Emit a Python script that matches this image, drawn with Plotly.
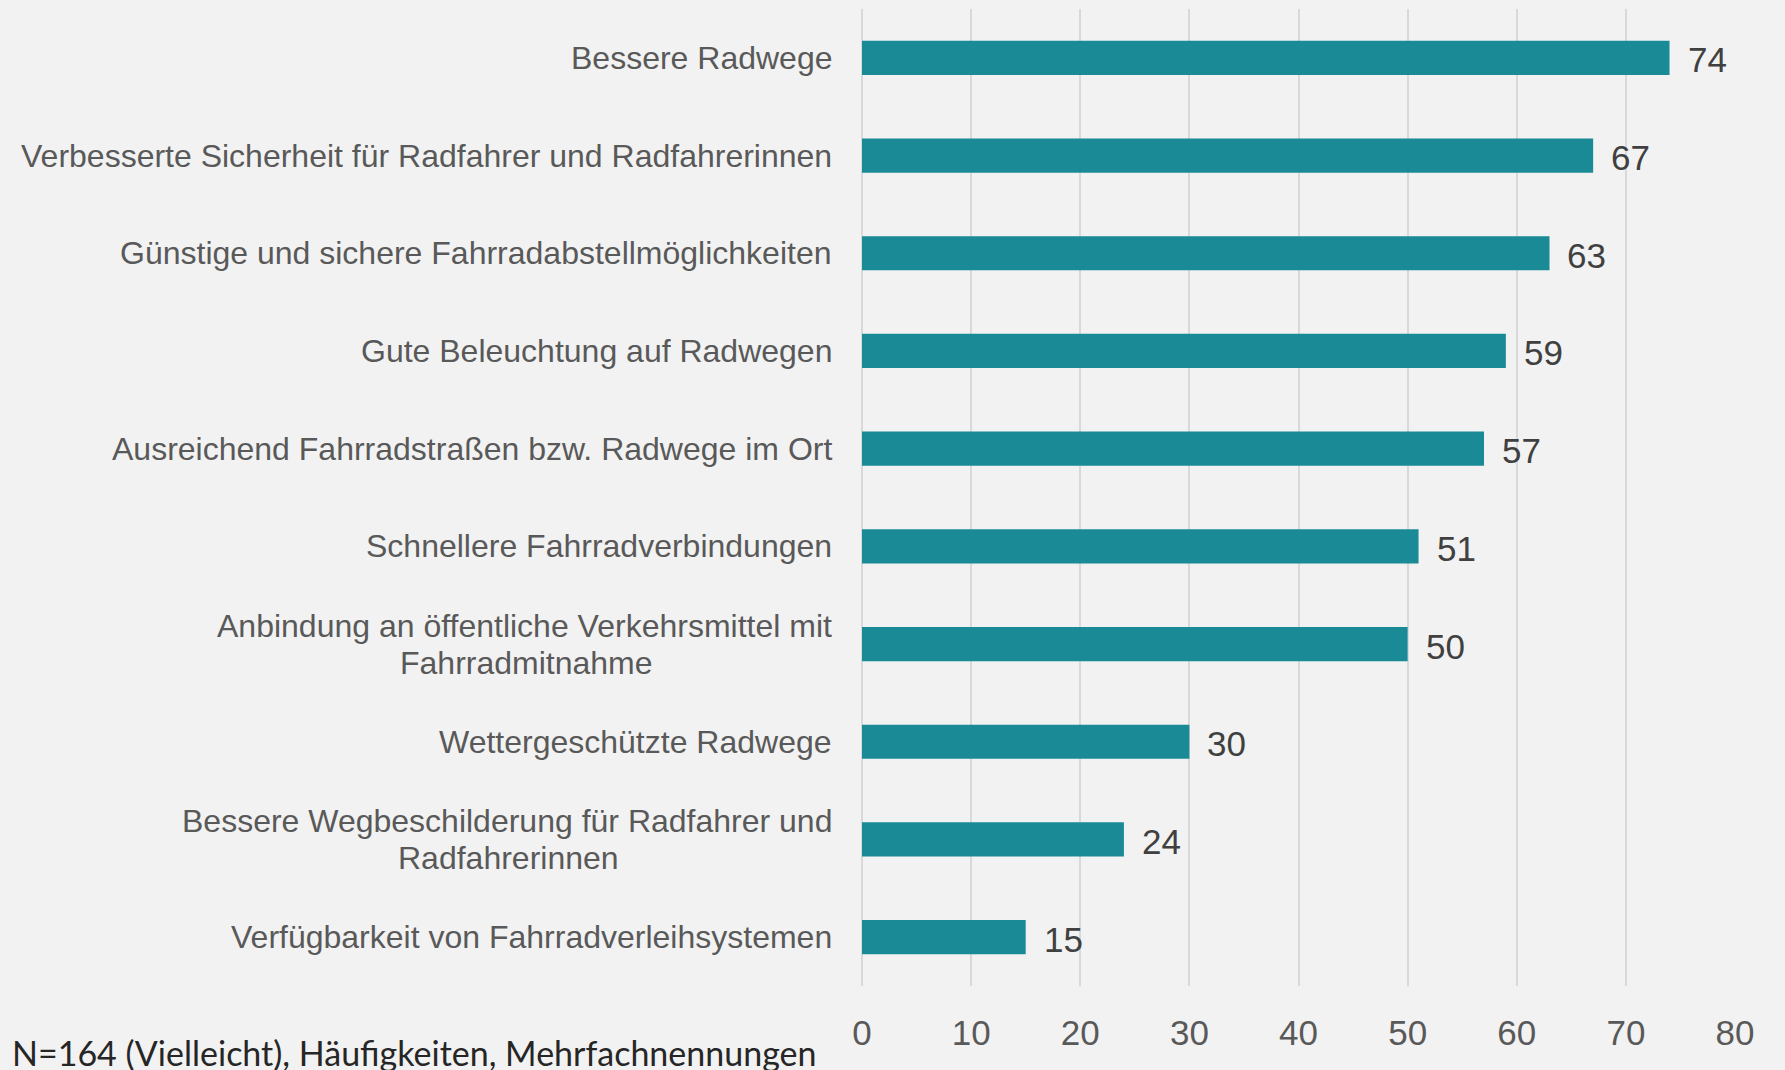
import plotly.graph_objects as go

categories = [
    "Bessere Radwege",
    "Verbesserte Sicherheit für Radfahrer und Radfahrerinnen",
    "Günstige und sichere Fahrradabstellmöglichkeiten",
    "Gute Beleuchtung auf Radwegen",
    "Ausreichend Fahrradstraßen bzw. Radwege im Ort",
    "Schnellere Fahrradverbindungen",
    "Anbindung an öffentliche Verkehrsmittel mit<br>Fahrradmitnahme",
    "Wettergeschützte Radwege",
    "Bessere Wegbeschilderung für Radfahrer und<br>Radfahrerinnen",
    "Verfügbarkeit von Fahrradverleihsystemen",
]
values = [74, 67, 63, 59, 57, 51, 50, 30, 24, 15]
x_ticks = [0, 10, 20, 30, 40, 50, 60, 70, 80]
footnote = "N=164 (Vielleicht), Häufigkeiten, Mehrfachnennungen"

BAR = "#1a8a96"
BG = "#f2f2f2"
GRID = "#d9d9d9"
TXT = "#595959"
LABEL_FONT = {"family": "Liberation Sans", "size": 32, "color": TXT}
LINE_H = 37  # Zeilenabstand der zweizeiligen Beschriftungen (px)
# ungefaehre Breite der ersten Zeile (px), um die zweite Zeile darunter zu zentrieren
FIRST_LINE_W = {
    "Anbindung an öffentliche Verkehrsmittel mit": 616,
    "Bessere Wegbeschilderung für Radfahrer und": 652,
}

fig = go.Figure(
    go.Bar(
        x=values,
        y=categories,
        orientation="h",
        marker={"color": BAR, "line": {"width": 0}},
        hoverinfo="x+y",
    )
)

# Werte rechts neben den Balken
for cat, val in zip(categories, values):
    fig.add_annotation(
        x=val, y=cat, text=str(val), showarrow=False,
        xanchor="left", yanchor="middle", xshift=16, yshift=-2,
        font={"family": "Liberation Sans", "size": 35, "color": "#404040"},
    )

# Kategorienbeschriftung; zweizeilige als getrennte Zeilen (engerer Abstand)
for cat in categories:
    lines = cat.split("<br>")
    if len(lines) == 1:
        fig.add_annotation(
            x=0, xref="paper", y=cat, text=cat, showarrow=False,
            xanchor="right", yanchor="middle", xshift=-28, font=LABEL_FONT,
        )
        continue
    fig.add_annotation(
        x=0, xref="paper", y=cat, text=lines[0], showarrow=False,
        xanchor="right", yanchor="middle", xshift=-28, yshift=LINE_H / 2,
        font=LABEL_FONT,
    )
    fig.add_annotation(
        x=0, xref="paper", y=cat, text=lines[1], showarrow=False,
        xanchor="center", yanchor="middle",
        xshift=-28 - FIRST_LINE_W[lines[0]] / 2, yshift=-LINE_H / 2,
        font=LABEL_FONT,
    )

fig.add_annotation(
    x=0, xref="paper", y=-0.068, yref="paper", text=footnote, showarrow=False,
    xanchor="left", yanchor="middle", xshift=-852,
    font={"family": "Lato", "size": 34, "color": "#262626"},
)

fig.update_layout(
    width=1785,
    height=1070,
    paper_bgcolor=BG,
    plot_bgcolor=BG,
    margin={"l": 862, "r": 50, "t": 9, "b": 84},
    bargap=0.65,
    showlegend=False,
    xaxis={
        "range": [0, 80],
        "tickvals": x_ticks,
        "showgrid": True,
        "gridcolor": GRID,
        "gridwidth": 1.5,
        "zeroline": True,
        "zerolinecolor": GRID,
        "zerolinewidth": 1.5,
        "showline": False,
        "ticks": "",
        "tickfont": {"family": "Liberation Sans", "size": 35, "color": TXT},
        "ticklabelstandoff": 23,
    },
    yaxis={
        "autorange": "reversed",
        "showticklabels": False,
        "showgrid": False,
        "zeroline": False,
        "showline": False,
        "ticks": "",
    },
)

fig.write_html(
    "out.html",
    config={"displayModeBar": False},
    post_script="document.body.style.margin='0px';document.body.style.background='#f2f2f2';",
)
